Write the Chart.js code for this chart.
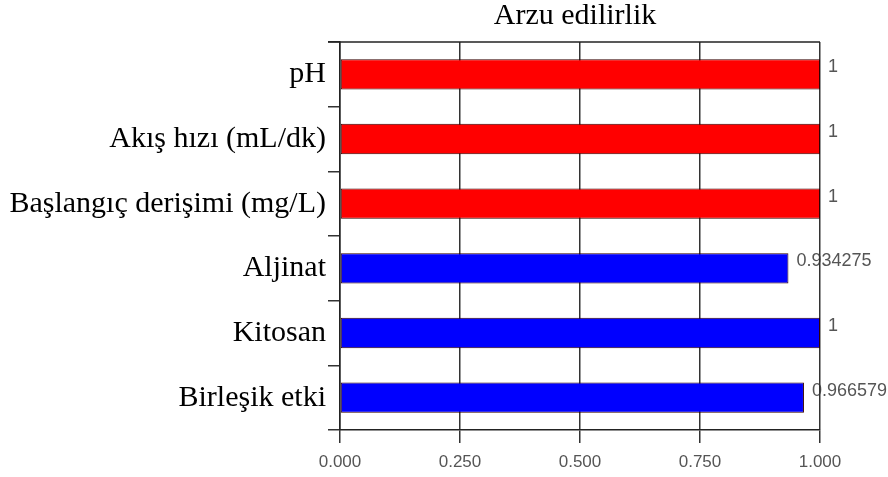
<!DOCTYPE html>
<html>
<head>
<meta charset="utf-8">
<script src="https://cdn.jsdelivr.net/npm/chart.js@4"></script>
<style>
html,body{margin:0;padding:0;background:#fff;}
#wrap{width:888px;height:477px;position:relative;}
</style>
</head>
<body>
<div id="wrap"><canvas id="c" width="888" height="477"></canvas></div>
<script>
const title = "Arzu edilirlik";
const categories = ["pH", "Akış hızı (mL/dk)", "Başlangıç derişimi (mg/L)", "Aljinat", "Kitosan", "Birleşik etki"];
const values = [1, 1, 1, 0.934275, 1, 0.966579];
const valueLabels = ["1", "1", "1", "0.934275", "1", "0.966579"];
const barColors = ["#ff0000", "#ff0000", "#ff0000", "#0000ff", "#0000ff", "#0000ff"];
const xTicks = [0, 0.25, 0.5, 0.75, 1.0];

const serif = "'Liberation Serif', 'DejaVu Serif', serif";
const sans = "'Liberation Sans', Arial, sans-serif";

const framePlugin = {
  id: 'frame',
  beforeDraw(chart) {
    const ctx = chart.ctx, a = chart.chartArea;
    ctx.save();
    // title
    ctx.fillStyle = '#000';
    ctx.font = "30px " + serif;
    ctx.textAlign = 'center';
    ctx.textBaseline = 'alphabetic';
    ctx.fillText(title, 575, 24);
    // value labels (drawn first so frame lines pass over them)
    const meta = chart.getDatasetMeta(0);
    ctx.font = "18px " + sans;
    ctx.fillStyle = '#555';
    ctx.textAlign = 'left';
    ctx.textBaseline = 'middle';
    meta.data.forEach((bar, i) => {
      ctx.fillText(valueLabels[i], bar.x + 8, bar.y - 7);
    });
    ctx.restore();
  },
  afterDraw(chart) {
    const ctx = chart.ctx, a = chart.chartArea;
    ctx.save();
    ctx.strokeStyle = '#222';
    ctx.lineWidth = 1.5;
    ctx.beginPath();
    ctx.moveTo(a.left - 12, a.top);
    ctx.lineTo(a.right, a.top);
    ctx.stroke();
    ctx.restore();
  }
};

new Chart(document.getElementById('c'), {
  type: 'bar',
  data: {
    labels: categories,
    datasets: [{
      data: values,
      backgroundColor: barColors,
      borderColor: '#300',
      borderWidth: 1,
      borderSkipped: false,
      categoryPercentage: 0.47,
      barPercentage: 1.0
    }]
  },
  options: {
    indexAxis: 'y',
    responsive: false,
    animation: false,
    devicePixelRatio: 1,
    layout: { padding: { left: 0, right: 68, top: 42, bottom: 0 } },
    plugins: { legend: { display: false }, tooltip: { enabled: false }, title: { display: false } },
    scales: {
      x: {
        min: 0, max: 1,
        afterBuildTicks(scale) { scale.ticks = xTicks.map(v => ({ value: v })); },
        afterFit(scale) { scale.height = 47; },
        ticks: {
          color: '#555',
          font: { family: sans, size: 17 },
          padding: 9,
          callback: v => Number(v).toFixed(3)
        },
        grid: { color: '#333', lineWidth: 1.5, tickLength: 13, drawOnChartArea: true },
        border: { color: '#222', width: 1.5 }
      },
      y: {
        afterFit(scale) { scale.width = 340; },
        ticks: {
          color: '#000',
          font: { family: serif, size: 30 },
          padding: 2
        },
        grid: { color: '#333', lineWidth: 1.5, tickLength: 12, drawOnChartArea: false, offset: true },
        border: { color: '#222', width: 1.5 }
      }
    }
  },
  plugins: [framePlugin]
});
</script>
</body>
</html>
